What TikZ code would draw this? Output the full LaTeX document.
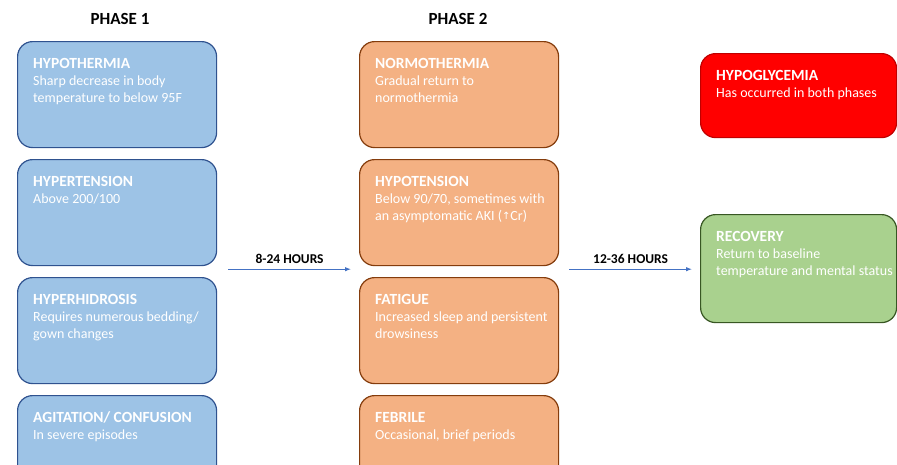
\documentclass[tikz,border=0pt]{standalone}
\usepackage{fontspec}
\setmainfont{Carlito}
\newfontfamily\arrowfont{DejaVu Sans}
\usetikzlibrary{calc,arrows.meta}
\definecolor{bluefill}{HTML}{9DC3E6}
\definecolor{blueline}{HTML}{2F528F}
\definecolor{orangefill}{HTML}{F4B183}
\definecolor{orangeline}{HTML}{843C0C}
\definecolor{redfill}{HTML}{FF0000}
\definecolor{redline}{HTML}{C00000}
\definecolor{greenfill}{HTML}{A9D18E}
\definecolor{greenline}{HTML}{385723}
\definecolor{arrowblue}{HTML}{4472C4}
\begin{document}
\begin{tikzpicture}[x=1pt,y=-1pt,
  card/.style={line width=1.2pt, rounded corners=15pt, anchor=north west,
    inner sep=0pt, minimum width=199pt},
  bluecard/.style={card, draw=blueline, fill=bluefill},
  orangecard/.style={card, draw=orangeline, fill=orangefill},
  redcard/.style={card, draw=redline, fill=redfill, minimum width=196pt},
  greencard/.style={card, draw=greenline, fill=greenfill, minimum width=196pt},
  ttl/.style={anchor=base west, inner sep=0pt, text=white,
    font=\fontsize{15.5}{17}\selectfont\bfseries},
  bodytext/.style={anchor=base west, inner sep=0pt, text=white,
    font=\fontsize{14}{17}\selectfont},
  phase/.style={font=\fontsize{17}{19}\selectfont\bfseries, text=black},
  lbl/.style={font=\fontsize{13.5}{15}\selectfont\bfseries, text=black, inner sep=0pt},
  arr/.style={draw=arrowblue, line width=1pt, -{Latex[length=6pt,width=4.5pt]}}
]
\useasboundingbox (0,0) rectangle (897,464);
\clip (0,0) rectangle (897,464);
\fill[white] (0,0) rectangle (897,464);

\newcommand{\mycard}[7]{%
  \node[#5, minimum height=#4pt] (#1) at (#2,#3) {};
  \node[ttl] (#1t) at ($(#1.north west)+(16,27.5)$) {#6};
  \node[bodytext] (#1b) at ($(#1.north west)+(16,44)$)
    {\parbox[t]{185pt}{\raggedright #7}};
}

\node[phase] (ph1) at (120,19) {PHASE 1};
\node[phase] (ph2) at (458,19) {PHASE 2};

% phase 1
\mycard{a1}{17}{41}{106}{bluecard}{HYPOTHERMIA}{Sharp decrease in body\\temperature to below 95F}
\mycard{a2}{17}{159}{106}{bluecard}{HYPERTENSION}{Above 200/100}
\mycard{a3}{17}{277}{106}{bluecard}{HYPERHIDROSIS}{Requires numerous bedding/\\gown changes}
\mycard{a4}{17}{395}{106}{bluecard}{AGITATION/ CONFUSION}{In severe episodes}

% phase 2
\mycard{b1}{359}{41}{106}{orangecard}{NORMOTHERMIA}{Gradual return to\\normothermia}
\mycard{b2}{359}{159}{106}{orangecard}{HYPOTENSION}{Below 90/70, sometimes with\\an asymptomatic AKI ({\arrowfont\fontsize{10}{10}\selectfont\raisebox{0.5pt}{↑}}Cr)}
\mycard{b3}{359}{277}{106}{orangecard}{FATIGUE}{Increased sleep and persistent\\drowsiness}
\mycard{b4}{359}{395}{106}{orangecard}{FEBRILE}{Occasional, brief periods}

% right column
\mycard{c1}{700}{53}{84}{redcard}{HYPOGLYCEMIA}{Has occurred in both phases}
\mycard{c2}{700}{214}{108}{greencard}{RECOVERY}{Return to baseline\\temperature and mental status}

% connectors
\coordinate (s1) at ($(a2.south east)+(11,3)$);
\coordinate (e1) at ($(b2.south west)+(-8,3)$);
\coordinate (s2) at ($(b2.south east)+(10,3)$);
\coordinate (e2) at ($(c2.west)+(-8,0)$);
\draw[arr] (s1) -- node[lbl, above=5pt] {8-24 HOURS} (e1);
\draw[arr] (s2) -- node[lbl, above=5pt] {12-36 HOURS} (e2 |- s2);
\end{tikzpicture}
\end{document}
